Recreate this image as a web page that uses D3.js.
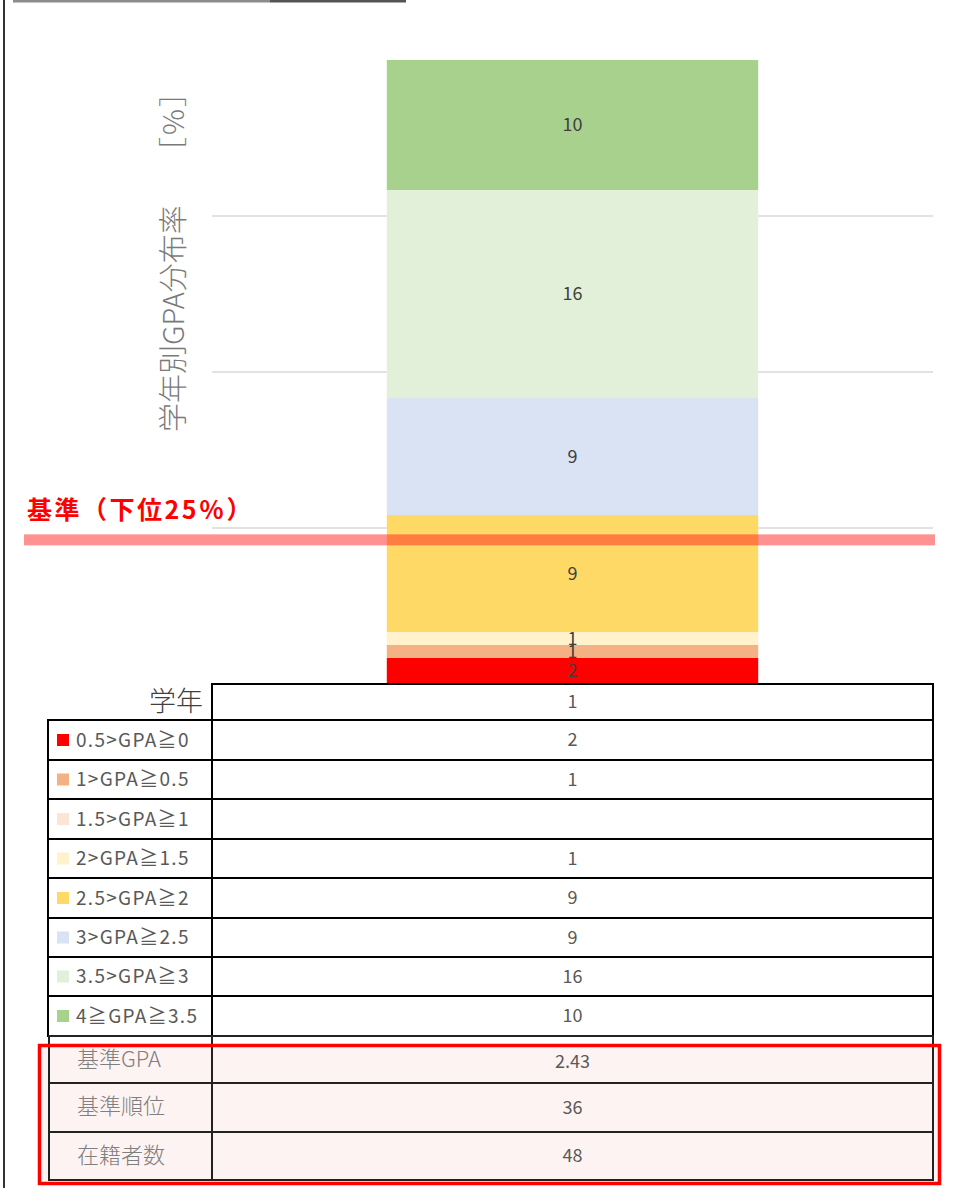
<!DOCTYPE html>
<html>
<head>
<meta charset="utf-8">
<title>学年別GPA分布率</title>
<script src="https://cdn.jsdelivr.net/npm/d3@7"></script>
<style>
body{margin:0;background:#fff;}
svg text{font-family:"Noto Sans CJK JP","Noto Sans",sans-serif;}
</style>
</head>
<body>
<script>
// data
var grades = ["1"];
var bands = ["0.5>GPA≧0","1>GPA≧0.5","1.5>GPA≧1","2>GPA≧1.5","2.5>GPA≧2","3>GPA≧2.5","3.5>GPA≧3","4≧GPA≧3.5"];
var counts = [2, 1, 0, 1, 9, 9, 16, 10];
var colors = ["#FF0000","#F4B183","#FBE5D6","#FFF2CC","#FFD966","#DAE3F3","#E2F0D9","#A9D18E"];
var yTicks = [25, 50, 75];
var baseLinePct = 23.1;
var extraLabels = ["基準GPA","基準順位","在籍者数"];
var extraValues = ["2.43","36","48"];

var width = 953, height = 1188;
var svg = d3.select('body').append('svg').attr('width',width).attr('height',height);

var total = d3.sum(counts);
var x = d3.scaleBand().domain(grades).range([212,933]).padding(0.32);
var y = d3.scaleLinear().domain([0,100]).range([684,60]);
var cx = x("1")+x.bandwidth()/2;

// frame bits
svg.append('line').attr('x1',4).attr('x2',4).attr('y1',0).attr('y2',height).attr('stroke','#333').attr('stroke-width',2);
svg.append('line').attr('x1',13).attr('x2',270).attr('y1',1).attr('y2',1).attr('stroke','#8c8c8c').attr('stroke-width',3);
svg.append('line').attr('x1',270).attr('x2',406).attr('y1',1).attr('y2',1).attr('stroke','#555').attr('stroke-width',3);

// gridlines
svg.selectAll('line.grid').data(yTicks).enter().append('line').attr('class','grid')
  .attr('x1',212).attr('x2',933)
  .attr('y1',function(d){return y(d);}).attr('y2',function(d){return y(d);})
  .attr('stroke','#d9d9d9').attr('stroke-width',1.5);

// stacked segments
var segs = [], acc = 0;
counts.forEach(function(c,i){
  var p0 = acc/total*100; acc += c; var p1 = acc/total*100;
  segs.push({i:i, c:c, p0:p0, p1:p1});
});
var bar = svg.append('g');
bar.selectAll('rect').data(segs.filter(function(d){return d.c>0;})).enter().append('rect')
  .attr('x',x("1")).attr('width',x.bandwidth())
  .attr('y',function(d){return y(d.p1);})
  .attr('height',function(d){return y(d.p0)-y(d.p1);})
  .attr('fill',function(d){return colors[d.i];});
bar.selectAll('text').data(segs.filter(function(d){return d.c>0;})).enter().append('text')
  .attr('x',cx)
  .attr('y',function(d){return (y(d.p0)+y(d.p1))/2;})
  .attr('dy','0.35em').attr('text-anchor','middle')
  .attr('font-size',18).attr('fill','#404040')
  .text(function(d){return d.c;});

// baseline marker
svg.append('rect').attr('x',24).attr('width',911)
  .attr('y',y(baseLinePct)-5.5).attr('height',11)
  .attr('fill','#FF1A1A').attr('opacity',0.48);
svg.append('text').attr('x',27).attr('y',519)
  .attr('font-size',25).attr('font-weight','bold').attr('fill','#FF0000')
  .attr('letter-spacing',2.5)
  .text('基準（下位25％）');

// y axis title
svg.append('text')
  .attr('transform','translate(184,432) rotate(-90)')
  .attr('text-anchor','start').attr('font-size',29).attr('fill','#7a7a7a')
  .attr('font-weight',300)
  .text('学年別GPA分布率');
svg.append('text')
  .attr('transform','translate(184,76) rotate(-90)')
  .attr('text-anchor','end').attr('font-size',29).attr('fill','#7a7a7a')
  .attr('font-weight',300).attr('letter-spacing',2)
  .text('［%］');

// table
var rowY = [720,760,799,839,878,918,957,996];
var rowH = [40,39,40,39,40,39,39,40];
var tbl = svg.append('g');

// pink highlighted area behind bottom rows
tbl.append('rect').attr('x',39).attr('y',1045).attr('width',901).attr('height',139)
  .attr('fill','#FDF3F2');

// header row
tbl.append('rect').attr('x',212).attr('y',684).attr('width',721).attr('height',36)
  .attr('fill','none').attr('stroke','#000').attr('stroke-width',2);
tbl.append('text').attr('x',203).attr('y',702).attr('dy','0.35em').attr('text-anchor','end')
  .attr('font-size',27).attr('fill','#404040').attr('font-weight',300).text('学年');
tbl.append('text').attr('x',cx).attr('y',702).attr('dy','0.35em').attr('text-anchor','middle')
  .attr('font-size',18).attr('fill','#595959').text(grades[0]);

var rows = tbl.selectAll('g.row').data(bands).enter().append('g').attr('class','row');
rows.append('rect').attr('x',48).attr('width',164)
  .attr('y',function(d,i){return rowY[i];}).attr('height',function(d,i){return rowH[i];})
  .attr('fill','none').attr('stroke','#000').attr('stroke-width',2);
rows.append('rect').attr('x',212).attr('width',721)
  .attr('y',function(d,i){return rowY[i];}).attr('height',function(d,i){return rowH[i];})
  .attr('fill','none').attr('stroke','#000').attr('stroke-width',2);
rows.append('rect').attr('x',57).attr('width',12).attr('height',12)
  .attr('y',function(d,i){return rowY[i]+rowH[i]/2-6;})
  .attr('fill',function(d,i){return colors[i];});
rows.append('text').attr('x',76)
  .attr('y',function(d,i){return rowY[i]+rowH[i]/2;}).attr('dy','0.35em')
  .attr('font-size',19).attr('letter-spacing',1.3).attr('fill','#595959').text(function(d){return d;});
rows.append('text').attr('x',cx).attr('text-anchor','middle')
  .attr('y',function(d,i){return rowY[i]+rowH[i]/2;}).attr('dy','0.35em')
  .attr('font-size',18).attr('fill','#595959')
  .text(function(d,i){return counts[i]>0?counts[i]:'';});

// bottom rows
var exY = [1036,1083,1132], exH = [47,49,48];
var ex = tbl.selectAll('g.ex').data(extraLabels).enter().append('g').attr('class','ex');
ex.append('rect').attr('x',49).attr('width',163)
  .attr('y',function(d,i){return exY[i];}).attr('height',function(d,i){return exH[i];})
  .attr('fill','none').attr('stroke','#222').attr('stroke-width',2);
ex.append('rect').attr('x',212).attr('width',721)
  .attr('y',function(d,i){return exY[i];}).attr('height',function(d,i){return exH[i];})
  .attr('fill','none').attr('stroke','#222').attr('stroke-width',2);
ex.append('text').attr('x',77)
  .attr('y',function(d,i){return exY[i]+exH[i]/2+(i==0?0:-1);}).attr('dy','0.35em')
  .attr('font-size',22).attr('fill','#7f7f7f').attr('font-weight',300).text(function(d){return d;});
ex.append('text').attr('x',cx).attr('text-anchor','middle')
  .attr('y',function(d,i){return exY[i]+exH[i]/2+(i==0?2:0);}).attr('dy','0.35em')
  .attr('font-size',18).attr('fill','#595959').text(function(d,i){return extraValues[i];});

// red highlight box
tbl.append('rect').attr('x',39.5).attr('y',1045.5).attr('width',900).attr('height',138)
  .attr('fill','none').attr('stroke','#FF0000').attr('stroke-width',3.5);
</script>
</body>
</html>
